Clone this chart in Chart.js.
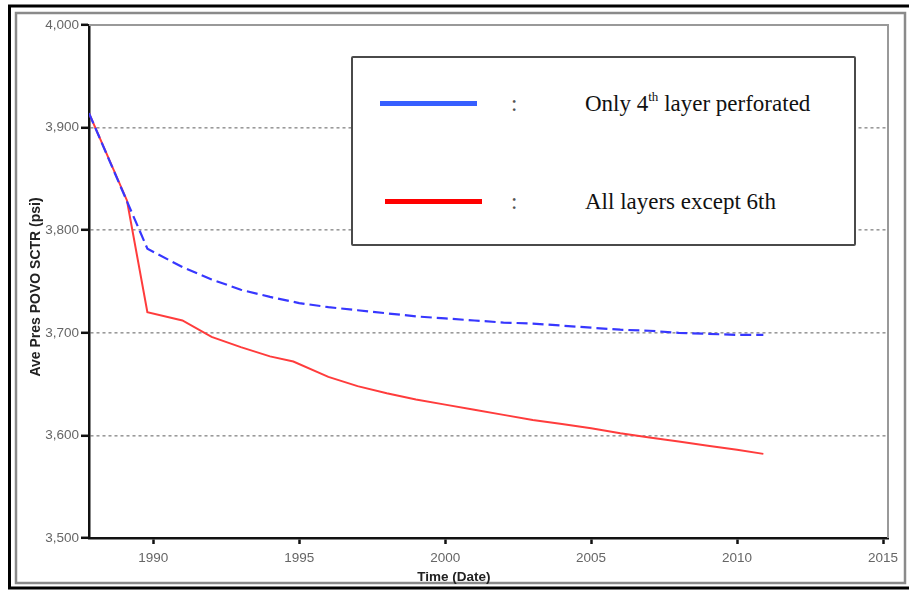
<!DOCTYPE html>
<html>
<head>
<meta charset="utf-8">
<script src="https://cdn.jsdelivr.net/npm/chart.js@4.4.1/dist/chart.umd.min.js"></script>
<style>
    html, body { margin: 0; padding: 0; background: #fff; }
    #wrap { position: relative; width: 909px; height: 591px; overflow: hidden; }
    #pressChart { position: absolute; left: 0; top: 0; }
    #legendBox {
        position: absolute; left: 351px; top: 56px; width: 505px; height: 190px;
        box-sizing: border-box; border: 2px solid #4a4a4a; border-radius: 2px; background: #fff;
        font-family: "Liberation Serif", "Times New Roman", serif; font-size: 23px; color: #111;
    }
    .swatch { position: absolute; height: 5px; width: 97px; }
    .colon { position: absolute; left: 158px; line-height: 26px; color: #555; }
    .lbl { position: absolute; left: 232px; white-space: nowrap; line-height: 26px; }
    .lbl sup { font-size: 13px; vertical-align: 10px; line-height: 0; }
</style>
</head>
<body>
<div id="wrap">
    <canvas id="pressChart" width="909" height="591"></canvas>
    <div id="legendBox"></div>
</div>
<script>
// series (year, psi)
var blueYears = [1987.8, 1989.8, 1991, 1992, 1993, 1994, 1995, 1996, 1997, 1998, 1999, 2000, 2001, 2002, 2003, 2004, 2005, 2006, 2007, 2008, 2009, 2010, 2010.9];
var bluePres  = [3914, 3782, 3764, 3752, 3742, 3735, 3729, 3725, 3722, 3719, 3716, 3714, 3712, 3710, 3709, 3707, 3705, 3703, 3702, 3700, 3699, 3698, 3698];

var redYears = [1987.8, 1989.1, 1989.8, 1991, 1992, 1993, 1994, 1994.8, 1996, 1997, 1998, 1999, 2000, 2001, 2002, 2003, 2004, 2005, 2006, 2007, 2008, 2009, 2010, 2010.9];
var redPres  = [3914, 3829, 3720, 3712, 3696, 3686, 3677, 3672, 3657, 3648, 3641, 3635, 3630, 3625, 3620, 3615, 3611, 3607, 3602, 3598, 3594, 3590, 3586, 3582];

var seriesNames = ['Only 4th layer perforated', 'All layers except 6th'];
var legendHtml = ['Only 4<sup>th</sup> layer perforated', 'All layers except 6th'];

var xTicks = [1990, 1995, 2000, 2005, 2010, 2015];
var yTicks = [3500, 3600, 3700, 3800, 3900, 4000];

var xTitle = 'Time (Date)';
var yTitle = 'Ave Pres POVO SCTR (psi)';

function toPoints(xs, ys) {
    var pts = [];
    for (var i = 0; i < xs.length; i++) {
        pts.push({x: xs[i], y: ys[i]});
    }
    return pts;
}

// frame, plot box and axis titles
var decorPlugin = {
    id: 'decor',
    beforeDraw: function (chart) {
        var ctx = chart.ctx;
        ctx.save();
        ctx.fillStyle = '#fff';
        ctx.fillRect(0, 0, chart.width, chart.height);
        ctx.strokeStyle = '#000';
        ctx.lineWidth = 3;
        ctx.strokeRect(9.5, 6, 905, 582);
        ctx.strokeStyle = '#8a8a8a';
        ctx.lineWidth = 2.5;
        ctx.strokeRect(16, 13, 889, 570);
        ctx.restore();
    },
    afterDraw: function (chart) {
        var ctx = chart.ctx;
        var a = chart.chartArea;
        ctx.save();
        ctx.strokeStyle = '#999';
        ctx.lineWidth = 2;
        ctx.beginPath();
        ctx.moveTo(a.left, a.top);
        ctx.lineTo(a.right, a.top);
        ctx.lineTo(a.right, a.bottom);
        ctx.stroke();

        ctx.fillStyle = '#222';
        ctx.textAlign = 'center';
        ctx.textBaseline = 'middle';
        ctx.font = 'bold 13.5px "Liberation Sans", Arial, sans-serif';
        ctx.fillText(xTitle, chart.scales.x.getPixelForValue(2000.3), 577);
        ctx.font = 'bold 14px "Liberation Sans", Arial, sans-serif';
        ctx.translate(36, 287);
        ctx.rotate(-Math.PI / 2);
        ctx.fillText(yTitle, 0, 0);
        ctx.restore();
    }
};

function drawPressChart() {
    var ctx = document.getElementById('pressChart').getContext('2d');
    new Chart(ctx, {
        type: 'line',
        data: {
            datasets: [{
                    label: seriesNames[0],
                    data: toPoints(blueYears, bluePres),
                    borderColor: 'rgb(55, 55, 255)',
                    borderWidth: 2.2,
                    borderDash: [11, 5],
                    pointRadius: 0,
                    tension: 0,
                    fill: false
                },
                {
                    label: seriesNames[1],
                    data: toPoints(redYears, redPres),
                    borderColor: 'rgb(255, 60, 60)',
                    borderWidth: 2,
                    pointRadius: 0,
                    tension: 0,
                    fill: false
                }
            ]
        },
        options: {
            responsive: false,
            animation: false,
            layout: {
                padding: {left: 0, right: 21, top: 25, bottom: 0}
            },
            plugins: {
                legend: {display: false},
                tooltip: {enabled: false}
            },
            scales: {
                x: {
                    type: 'linear',
                    min: 1987.8,
                    max: 2015.17,
                    afterBuildTicks: function (scale) {
                        scale.ticks = xTicks.map(function (v) { return {value: v}; });
                    },
                    afterFit: function (scale) { scale.height = 53; },
                    ticks: {
                        color: '#666',
                        font: {family: '"Liberation Sans", Arial, sans-serif', size: 13.5},
                        padding: 6,
                        maxRotation: 0,
                        callback: function (v) { return String(v); }
                    },
                    grid: {
                        drawOnChartArea: false,
                        drawTicks: true,
                        tickLength: 6,
                        tickColor: '#111',
                        tickWidth: 2.5
                    },
                    border: {color: '#111', width: 2.5}
                },
                y: {
                    min: 3500,
                    max: 4000,
                    afterBuildTicks: function (scale) {
                        scale.ticks = yTicks.map(function (v) { return {value: v}; });
                    },
                    afterFit: function (scale) { scale.width = 89; },
                    ticks: {
                        color: '#666',
                        font: {family: '"Liberation Sans", Arial, sans-serif', size: 13.5},
                        padding: 2,
                        callback: function (v) { return v.toLocaleString('en-US'); }
                    },
                    grid: {
                        color: function (c) {
                            return (c.tick && (c.tick.value === 4000 || c.tick.value === 3500)) ? 'rgba(0,0,0,0)' : '#9a9a9a';
                        },
                        lineWidth: 1.6,
                        tickLength: 8,
                        tickColor: '#111',
                        tickWidth: 2.5,
                        tickBorderDash: [0, 0]
                    },
                    border: {color: '#111', width: 2.5, dash: [3, 3]}
                }
            }
        },
        plugins: [decorPlugin]
    });
}

function fillLegend() {
    var box = document.getElementById('legendBox');
    var colors = ['rgb(55, 95, 255)', 'rgb(255, 0, 0)'];
    var rows = [
        {swatchLeft: 27, y: 46},
        {swatchLeft: 32, y: 144}
    ];
    var html = '';
    for (var i = 0; i < rows.length; i++) {
        html += '<div class="swatch" style="left:' + rows[i].swatchLeft + 'px;top:' + (rows[i].y - 3) + 'px;background:' + colors[i] + '"></div>' +
                '<div class="colon" style="top:' + (rows[i].y - 13) + 'px">:</div>' +
                '<div class="lbl" style="top:' + (rows[i].y - 13) + 'px">' + legendHtml[i] + '</div>';
    }
    box.innerHTML = html;
}

drawPressChart();
fillLegend();
</script>
</body>
</html>
